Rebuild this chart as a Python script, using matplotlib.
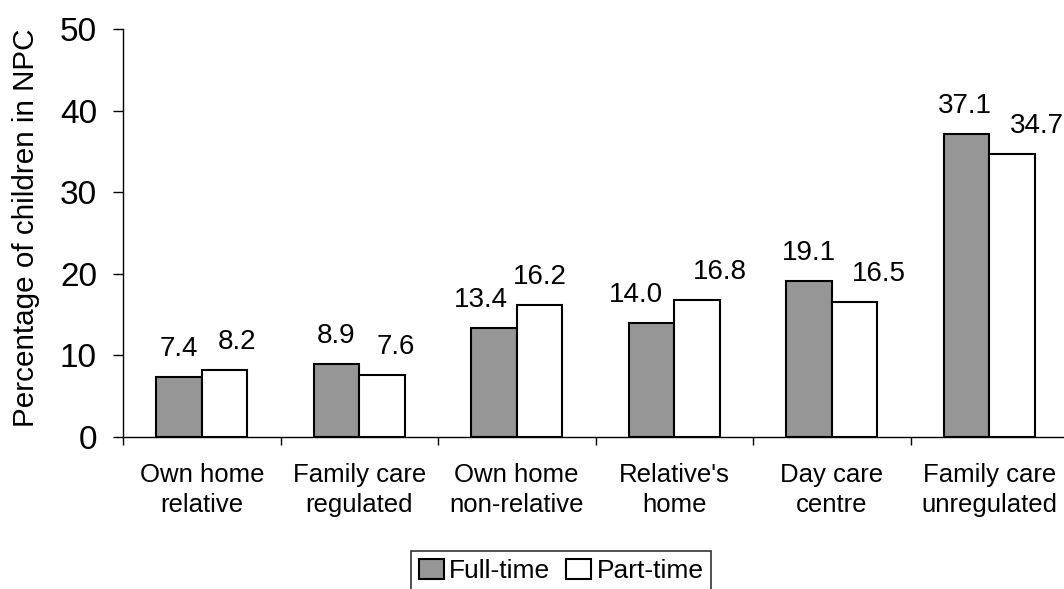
import matplotlib.pyplot as plt
import numpy as np

# Non-parental care arrangements, full-time vs part-time
categories = ["Own home\nrelative", "Family care\nregulated", "Own home\nnon-relative",
              "Relative's\nhome", "Day care\ncentre", "Family care\nunregulated"]
full_time = [7.4, 8.9, 13.4, 14.0, 19.1, 37.1]
part_time = [8.2, 7.6, 16.2, 16.8, 16.5, 34.7]
y_ticks = [0, 10, 20, 30, 40, 50]

# small sideways nudges (pixels) so neighbouring value labels don't crowd
nudge_full = [0, 0, -13, -16, 0, -2]
nudge_part = [12, 14, 0, 23, 24, 25]

plt.rcParams['font.family'] = ['Liberation Sans', 'DejaVu Sans']

W, H = 1064, 589
fig = plt.figure(figsize=(W / 100, H / 100), dpi=100)
ax = fig.add_axes([123 / W, 1 - 437 / H, (1068 - 123) / W, (437 - 29) / H])

x = np.arange(len(categories))
bw = 0.289
px = 0.72  # points per pixel at 100 dpi

bars_f = ax.bar(x - bw / 2, full_time, bw, color='#969696', edgecolor='black',
                linewidth=1.5, label='Full-time', zorder=3)
bars_p = ax.bar(x + bw / 2, part_time, bw, color='white', edgecolor='black',
                linewidth=1.5, label='Part-time', zorder=3)

for bars, vals, nudges in [(bars_f, full_time, nudge_full), (bars_p, part_time, nudge_part)]:
    for b, v, dx in zip(bars, vals, nudges):
        ax.annotate(f"{v:.1f}", (b.get_x() + b.get_width() / 2, v),
                    xytext=(dx * px, 21 * px), textcoords='offset points',
                    ha='center', va='baseline', fontsize=20, annotation_clip=False)

ax.set_xlim(-0.5, len(categories) - 0.5)
ax.set_ylim(0, 50)
ax.set_yticks(y_ticks)
ax.tick_params(axis='y', labelsize=24, length=10 * px, width=1, direction='out',
               pad=16 * px)

ax.set_xticks(x)
ax.set_xticklabels(categories, fontsize=18.5, linespacing=1.3)
ax.set_xticks(np.arange(len(categories) + 1) - 0.5, minor=True)
ax.tick_params(axis='x', which='major', length=0, pad=26 * px)
ax.tick_params(axis='x', which='minor', length=8 * px, width=1, direction='out')

ax.set_ylabel("Percentage of children in NPC", fontsize=21.3, va='center')
ax.yaxis.set_label_coords(-0.103, 0.513)

for side in ['top', 'right']:
    ax.spines[side].set_visible(False)
for side in ['left', 'bottom']:
    ax.spines[side].set_linewidth(1)

leg = fig.legend(loc='upper left', bbox_to_anchor=(411 / W, 1 - 551 / H),
                 ncol=2, fontsize=19, frameon=True, fancybox=False,
                 borderaxespad=0, borderpad=0.3, handlelength=0.95, handleheight=0.8,
                 handletextpad=0.2, columnspacing=0.6)
leg.get_frame().set_edgecolor('black')
leg.get_frame().set_linewidth(1.2)

fig.savefig("out.png", dpi=100)
